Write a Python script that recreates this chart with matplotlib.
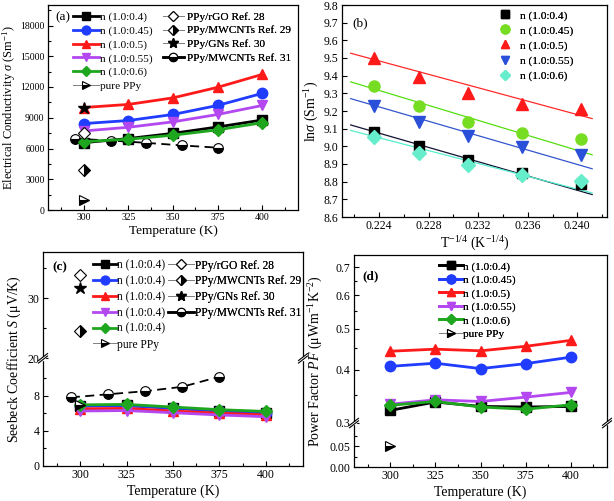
import numpy as np
import matplotlib
matplotlib.use("Agg")
import matplotlib.pyplot as plt
from matplotlib.lines import Line2D
from matplotlib.ticker import FixedLocator, FixedFormatter, MultipleLocator

plt.rcParams['font.family'] = ['Liberation Serif', 'DejaVu Serif']
plt.rcParams['mathtext.fontset'] = 'custom'
plt.rcParams['mathtext.rm'] = 'Liberation Serif'
plt.rcParams['mathtext.it'] = 'Liberation Serif:italic'
plt.rcParams['mathtext.bf'] = 'Liberation Serif:bold'

# ---------------- data ----------------
T = [300, 325, 350, 375, 400]
labels_n = ['n (1.0:0.4)', 'n (1.0:0.45)', 'n (1.0:0.5)', 'n (1.0:0.55)', 'n (1.0:0.6)']
labels_c = ['n (1.0:0.4)'] * 5

sigma_04 = [6570, 6970, 7480, 8100, 8780]
sigma_045 = [8430, 8730, 9320, 10200, 11380]
sigma_05 = [10000, 10300, 10940, 11970, 13230]
sigma_055 = [7710, 8070, 8600, 9320, 10200]
sigma_06 = [6670, 6900, 7300, 7820, 8520]

ref_T = [300]
ref28_sigma = [7500]
ref29_sigma = [3900]
ref30_sigma = [10000]
ref31_T = [295, 315, 335, 355, 375]
ref31_sigma = [6950, 6780, 6550, 6300, 6080]
pure_sigma = [1000]

ln_04 = [8.785, 8.85, 8.92, 9.00, 9.08]
ln_045 = [9.04, 9.075, 9.14, 9.23, 9.34]
ln_05 = [9.21, 9.24, 9.30, 9.39, 9.50]
ln_055 = [8.95, 8.995, 9.06, 9.14, 9.23]
ln_06 = [8.805, 8.84, 8.895, 8.965, 9.05]
fit_x = [0.2217, 0.2412]
fit_04 = [9.121, 8.727]
fit_045 = [9.365, 8.952]
fit_05 = [9.527, 9.157]
fit_055 = [9.27, 8.873]
fit_06 = [9.09, 8.736]

S_04 = [6.85, 6.9, 6.6, 6.3, 6.05]
S_045 = [6.8, 6.85, 6.55, 6.25, 6.05]
S_05 = [6.5, 6.55, 6.25, 6.0, 5.8]
S_055 = [6.25, 6.3, 6.05, 5.8, 5.6]
S_06 = [6.95, 7.0, 6.7, 6.4, 6.2]
ref28_S = [33.8]
ref29_S = [24.5]
ref30_S = [31.7]
ref31_S = [7.8, 8.15, 8.5, 9.0, 10.15]
pure_S = [6.9]

PF_04 = [0.321, 0.336, 0.328, 0.327, 0.328]
PF_045 = [0.408, 0.415, 0.403, 0.414, 0.429]
PF_05 = [0.443, 0.448, 0.444, 0.455, 0.470]
PF_055 = [0.332, 0.340, 0.337, 0.345, 0.354]
PF_06 = [0.330, 0.337, 0.327, 0.323, 0.331]
pure_PF = [0.05]

# ---------------- styles ----------------
cols = ['black', '#1f3cff', '#ff1a1a', '#b448f0', '#1fa61f']
marks = ['s', 'o', '^', 'v', 'D']
msz = [6.5, 7.5, 7.5, 7.5, 6.5]
cols_b = ['black', '#77dd22', '#ff1a1a', '#2a4fd8', '#66eecc']
fitcols_b = ['#111133', '#55dd11', '#ff2a2a', '#3355cc', '#55eecc']

W, H = 614, 501
fig = plt.figure(figsize=(W / 100, H / 100), dpi=100)


def px_axes(l, t, r, b):
    return fig.add_axes([l / W, 1 - b / H, (r - l) / W, (b - t) / H])


LAB_FS = 10


def style_axes(ax, tfs=8.5):
    ax.tick_params(direction='in', which='both', labelsize=tfs, width=0.8, pad=2.5)
    ax.tick_params(which='major', length=3.5)
    ax.tick_params(which='minor', length=2)
    for s in ax.spines.values():
        s.set_linewidth(0.9)


def temp_xaxis(ax, fs=LAB_FS):
    ax.set_xlim(280, 420)
    ax.xaxis.set_major_locator(FixedLocator([300, 325, 350, 375, 400]))
    ax.xaxis.set_minor_locator(MultipleLocator(12.5))
    ax.set_xlabel('Temperature (K)', fontsize=fs, labelpad=2)


def n_handles():
    return [Line2D([], [], color=c, lw=2, marker=m, ms=s * 0.85, mfc=c, mec=c)
            for c, m, s in zip(cols, marks, msz)]


def pure_handle():
    return Line2D([], [], color='gray', lw=0.7, marker='>', ms=6, fillstyle='bottom',
                  mfc='black', mfcalt='white', mec='black', mew=0.8)


def ref_handles():
    return [Line2D([], [], color='gray', lw=0.7, marker='D', ms=5, mfc='white', mec='black', mew=0.8),
            Line2D([], [], color='gray', lw=0.7, marker='D', ms=5, fillstyle='right', mfc='black',
                   mfcalt='white', mec='black', mew=0.8),
            Line2D([], [], color='gray', lw=0.7, marker='*', ms=7, mfc='black', mec='black'),
            Line2D([], [], color='black', lw=1.8, marker='o', ms=6, fillstyle='bottom', mfc='black',
                   mfcalt='white', mec='black', mew=0.8)]


ref_labels = ['PPy/rGO Ref. 28', 'PPy/MWCNTs Ref. 29', 'PPy/GNs Ref. 30', 'PPy/MWCNTs Ref. 31']


def add_legend(ax, handles, labels, x, y, hl, htp=0.15, ls=0.3, fs=8.2):
    leg = ax.legend(handles, labels, loc='upper left', bbox_to_anchor=(x / W, 1 - y / H),
                    bbox_transform=fig.transFigure, frameon=False, fontsize=fs,
                    handlelength=hl, handletextpad=htp, labelspacing=ls, borderpad=0,
                    borderaxespad=0)
    ax.add_artist(leg)
    return leg


def break_marks(ax, yfrac):
    bb = ax.get_position()
    wpx, hpx = bb.width * W, bb.height * H
    dx, dy, gap = 4.5 / wpx, 3.5 / hpx, 2.5 / hpx
    for xs in (0, 1):
        ax.add_patch(plt.Rectangle((xs - 1.5 / wpx, yfrac - gap / 2), 3 / wpx, gap,
                                   transform=ax.transAxes, color='white', clip_on=False, zorder=10))
        for off in (-gap / 2, gap / 2):
            ax.plot([xs - dx, xs + dx], [yfrac + off - dy, yfrac + off + dy], color='black', lw=0.8,
                    transform=ax.transAxes, clip_on=False, zorder=11)


# ---------------- (a) ----------------
axA = px_axes(48, 5, 298, 210)
style_axes(axA, 7.0)
sig = [sigma_04, sigma_045, sigma_05, sigma_055, sigma_06]
for k, (s, c, m, z) in enumerate(zip(sig, cols, marks, msz)):
    axA.plot(T, s, color=c, lw=2, marker=m, ms=z, mfc=c, mec=c, zorder=3 + k * 0.1)
axA.plot(ref_T, ref28_sigma, ls='none', marker='D', ms=6, mfc='white', mec='black', mew=0.8, zorder=5)
axA.plot(ref_T, ref29_sigma, ls='none', marker='D', ms=6, fillstyle='right', mfc='black', mfcalt='white',
         mec='black', mew=0.8, zorder=5)
axA.plot(ref_T, ref30_sigma, ls='none', marker='*', ms=9, color='black', zorder=6)
axA.plot(ref31_T, ref31_sigma, color='black', lw=1.3, ls=(0, (5, 3)), marker='o', ms=7, fillstyle='bottom',
         mfc='black', mfcalt='white', mec='black', mew=0.8, zorder=2)
axA.plot(ref_T, pure_sigma, ls='none', marker='>', ms=7, fillstyle='bottom', mfc='black', mfcalt='white',
         mec='black', mew=0.8, zorder=5)
temp_xaxis(axA, 9.5)
axA.set_ylim(0, 20000)
axA.yaxis.set_major_locator(MultipleLocator(3000))
axA.yaxis.set_minor_locator(MultipleLocator(1500))
axA.set_ylabel(r'Electrical Conductivity $\sigma$ (Sm$^{-1}$)', fontsize=9.0)
axA.yaxis.set_label_coords(-0.118, 0.5)
axA.text(0.03, 0.925, '(a)', transform=axA.transAxes, fontsize=9.5)
add_legend(axA, n_handles() + [pure_handle()], labels_n + ['pure PPy'], 73, 12, 2.3, htp=0.08, ls=0.33, fs=8.1)
add_legend(axA, ref_handles(), ref_labels, 163, 12, 1.85, htp=0.25, ls=0.33, fs=8.1)

# ---------------- (b) ----------------
axB = px_axes(342, 5, 607, 217)
style_axes(axB)
Tinv = np.array(T, float) ** -0.25
lns = [ln_04, ln_045, ln_05, ln_055, ln_06]
fits = [fit_04, fit_045, fit_05, fit_055, fit_06]
for l, f, c, fc, m, z in zip(lns, fits, cols_b, fitcols_b, marks, msz):
    axB.plot(fit_x, f, color=fc, lw=0.9, zorder=2)
    axB.plot(Tinv, l, ls='none', marker=m, ms=z + 0.5, mfc=c, mec=c, zorder=3)
axB.set_xlim(0.2210, 0.2424)
axB.set_ylim(8.6, 9.8)
axB.xaxis.set_major_locator(FixedLocator([0.224, 0.228, 0.232, 0.236, 0.240]))
axB.xaxis.set_major_formatter(FixedFormatter(['0.224', '0.228', '0.232', '0.236', '0.240']))
axB.xaxis.set_minor_locator(MultipleLocator(0.002))
axB.yaxis.set_major_locator(MultipleLocator(0.1))
axB.yaxis.set_major_formatter(plt.FuncFormatter(lambda v, p: f'{v:.1f}'))
axB.set_xlabel(r'T$^{-1/4}$ (K$^{-1/4}$)', fontsize=LAB_FS, labelpad=2)
axB.set_ylabel(r'ln$\sigma$ (Sm$^{-1}$)', fontsize=LAB_FS, labelpad=2)
axB.text(0.038, 0.915, '(b)', transform=axB.transAxes, fontsize=9.5, va='center')
hb_leg = [Line2D([], [], ls='none', marker=m, ms=z * 0.85, mfc=c, mec=c)
          for c, m, z in zip(cols_b, marks, msz)]
add_legend(axB, hb_leg, labels_n, 497, 10.5, 1.4, htp=0.6, ls=0.42)

# ---------------- (c) ----------------
c_lo, c_hi, c_gapw, c_k = 12.2, 20.0, 0.05, 6.0 / 8.8


def c_fwd(v):
    return np.interp(v, [-100, c_lo, c_hi, 200], [-100, c_lo, c_lo + c_gapw, c_lo + c_gapw + 180 * c_k])


def c_inv(u):
    return np.interp(u, [-100, c_lo, c_lo + c_gapw, c_lo + c_gapw + 180 * c_k], [-100, c_lo, c_hi, 200])


axC = px_axes(43, 252, 303, 466)
style_axes(axC)
axC.set_yscale('function', functions=(c_fwd, c_inv))
Ss = [S_04, S_045, S_05, S_055, S_06]
for k, (s, c, m, z) in enumerate(zip(Ss, cols, marks, msz)):
    axC.plot(T, s, color=c, lw=2, marker=m, ms=z, mfc=c, mec=c, zorder=3 + k * 0.1)
axC.plot(ref_T, ref28_S, ls='none', marker='D', ms=6, mfc='white', mec='black', mew=0.8, zorder=5)
axC.plot(ref_T, ref29_S, ls='none', marker='D', ms=6, fillstyle='right', mfc='black', mfcalt='white',
         mec='black', mew=0.8, zorder=5)
axC.plot(ref_T, ref30_S, ls='none', marker='*', ms=9, color='black', zorder=6)
axC.plot(ref31_T, ref31_S, color='black', lw=1.3, ls=(0, (5, 3)), marker='o', ms=7, fillstyle='bottom',
         mfc='black', mfcalt='white', mec='black', mew=0.8, zorder=2)
axC.plot(ref_T, pure_S, ls='none', marker='>', ms=7, fillstyle='bottom', mfc='black', mfcalt='white',
         mec='black', mew=0.8, zorder=5)
temp_xaxis(axC)
axC.set_ylim(0, 37.7)
axC.yaxis.set_major_locator(FixedLocator([0, 4, 8, 20, 30]))
axC.yaxis.set_major_formatter(FixedFormatter(['0', '4', '8', '20', '30']))
axC.yaxis.set_minor_locator(FixedLocator([2, 6, 10, 25, 35]))
axC.set_ylabel(r'Seebeck Coefficient $S$ (μV/K)', fontsize=LAB_FS, labelpad=3)
axC.text(0.035, 0.915, '(c)', transform=axC.transAxes, fontsize=9.5, fontweight='bold')
break_marks(axC, (466 - 358.3) / 214)
add_legend(axC, n_handles() + [pure_handle()], labels_c + ['pure PPy'], 93, 259.5, 2.05, htp=0.05, ls=0.33,
           fs=8.3)
add_legend(axC, ref_handles(), ref_labels, 168, 259.5, 2.25, htp=0.05, ls=0.33, fs=8.3)

# ---------------- (d) ----------------
d_lo, d_hi = 0.106, 0.3
d_L, d_D, d_g = 414.0, 423.0, 0.3
d_a = d_lo * d_L
d_b = d_a + d_g


def d_fwd(v):
    v = np.asarray(v, float)
    up = d_b + d_D * np.log10(np.clip(v, d_hi, None) / d_hi)
    mid = d_a + (v - d_lo) / (d_hi - d_lo) * d_g
    return np.where(v <= d_lo, v * d_L, np.where(v >= d_hi, up, mid))


def d_inv(u):
    u = np.asarray(u, float)
    up = d_hi * 10 ** ((np.clip(u, d_b, None) - d_b) / d_D)
    mid = d_lo + (u - d_a) / d_g * (d_hi - d_lo)
    return np.where(u <= d_a, u / d_L, np.where(u >= d_b, up, mid))


axD = px_axes(354, 255, 607, 467)
style_axes(axD)
axD.set_yscale('function', functions=(d_fwd, d_inv))
PFs = [PF_04, PF_045, PF_05, PF_055, PF_06]
for k, (s, c, m, z) in enumerate(zip(PFs, cols, marks, msz)):
    axD.plot(T, s, color=c, lw=2, marker=m, ms=z, mfc=c, mec=c, zorder=3 + k * 0.1)
axD.plot(ref_T, pure_PF, ls='none', marker='>', ms=7, fillstyle='bottom', mfc='black', mfcalt='white',
         mec='black', mew=0.8, zorder=5)
temp_xaxis(axD)
axD.set_ylim(0, 0.748)
axD.yaxis.set_major_locator(FixedLocator([0, 0.05, 0.3, 0.4, 0.5, 0.6, 0.7]))
axD.yaxis.set_major_formatter(FixedFormatter(['0.00', '0.05', '0.3', '0.4', '0.5', '0.6', '0.7']))
axD.yaxis.set_minor_locator(FixedLocator([0.025, 0.075, 0.35, 0.45, 0.55, 0.65]))
axD.set_ylabel(r'Power Factor $PF$ (μWm$^{-1}$K$^{-2}$)', fontsize=LAB_FS, labelpad=3)
axD.text(0.035, 0.9, '(d)', transform=axD.transAxes, fontsize=9.5, fontweight='bold', va='center')
break_marks(axD, (467.3 - 423.3) / 212.3)
add_legend(axD, n_handles() + [pure_handle()], labels_n + ['pure PPy'], 439, 261.5, 2.1, htp=0.05, ls=0.3,
           fs=8.1)

fig.savefig('out.png', dpi=100)
